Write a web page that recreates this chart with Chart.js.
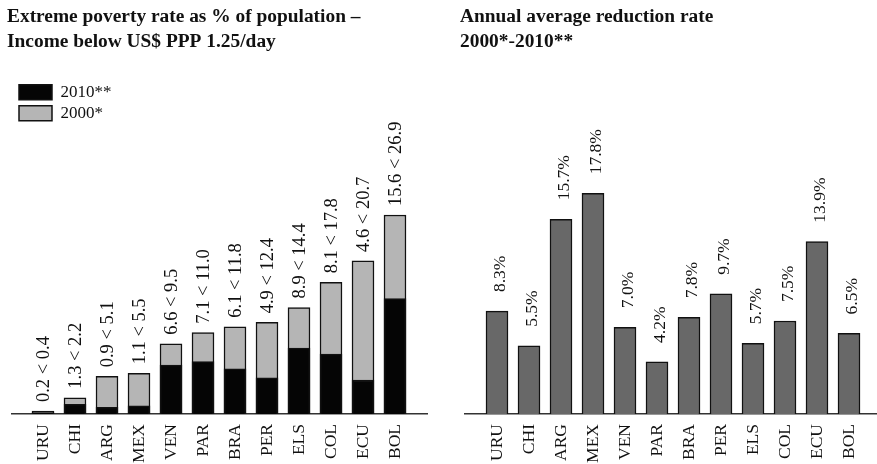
<!DOCTYPE html>
<html>
<head>
<meta charset="utf-8">
<script src="https://cdn.jsdelivr.net/npm/chart.js@4.4.1/dist/chart.umd.min.js"></script>
<style>
    body { margin: 0; background: #fff; }
    #grafico-pobreza { position: absolute; left: 0; top: 0; }
    #grafico-reducao { position: absolute; left: 438px; top: 0; }
</style>
</head>
<body>
<canvas id="grafico-pobreza" width="438" height="464"></canvas>
<canvas id="grafico-reducao" width="439" height="464"></canvas>
<script>
// Dados
const paises = ["URU", "CHI", "ARG", "MEX", "VEN", "PAR", "BRA", "PER", "ELS", "COL", "ECU", "BOL"]
const pobreza2010 = [0.2, 1.3, 0.9, 1.1, 6.6, 7.1, 6.1, 4.9, 8.9, 8.1, 4.6, 15.6]
const pobreza2000 = [0.4, 2.2, 5.1, 5.5, 9.5, 11.0, 11.8, 12.4, 14.4, 17.8, 20.7, 26.9]
const taxaReducao = [8.3, 5.5, 15.7, 17.8, 7.0, 4.2, 7.8, 9.7, 5.7, 7.5, 13.9, 6.5]

const fonteSerif = "'Liberation Serif', 'DejaVu Serif', serif"

// deixa uma sobra no eixo x antes da primeira e depois da ultima barra
const espacarCategorias = (sobraEsquerda, passo) => scale => {
    scale._valueRange = scale.width / passo
    scale._startValue = -sobraEsquerda / passo
}

// rótulos girados em cima das barras
const rotulosBarras = (indiceDataset, texto, distancia, desvio, tamanho) => ({
    id: 'rotulosBarras',
    afterDatasetsDraw(chart) {
        const ctx = chart.ctx
        const meta = chart.getDatasetMeta(indiceDataset)
        ctx.save()
        ctx.font = `${tamanho}px ${fonteSerif}`
        ctx.fillStyle = '#111'
        ctx.textAlign = 'left'
        ctx.textBaseline = 'middle'
        meta.data.forEach((barra, i) => {
            ctx.save()
            ctx.translate(barra.x + desvio, barra.y - distancia)
            ctx.rotate(-Math.PI / 2)
            ctx.fillText(texto(i), 0, 0)
            ctx.restore()
        })
        ctx.restore()
    }
})

// a legenda em 'chartArea' fica no topo do canvas, entao empurra ela pra dentro da area
const legendaNaArea = {
    id: 'legendaNaArea',
    afterLayout(chart) {
        const legenda = chart.legend
        if (!legenda) return
        legenda.top += chart.chartArea.top
        legenda.bottom += chart.chartArea.top
        legenda.left = chart.chartArea.left + 3
    }
}

const eixoX = (sobraEsquerda) => ({
    grid: { display: false },
    border: { color: '#333', width: 1.5 },
    afterBuildTicks: espacarCategorias(sobraEsquerda, 32),
    afterFit: scale => { scale.height = 50 },
    ticks: {
        minRotation: 90,
        maxRotation: 90,
        padding: 2,
        color: '#111',
        font: { family: fonteSerif, size: 17.5 }
    }
})

const eixoY = (maximo) => ({
    min: 0,
    max: maximo,
    grid: { display: false },
    border: { display: false },
    ticks: { display: false },
    afterFit: scale => { scale.width = 5 }
})

const titulo = (linhas) => ({
    display: true,
    text: linhas,
    align: 'start',
    color: '#111',
    font: { family: fonteSerif, size: 19.4, weight: 'bold', lineHeight: 1.28 },
    padding: { top: 5, bottom: 25 }
})

let graficoPobreza = new Chart(
    document.getElementById("grafico-pobreza"),
    {
        type: "bar",
        data: {
            labels: paises,
            datasets: [
                {
                    label: "2010**",
                    data: pobreza2010,
                    backgroundColor: "#050505",
                    borderColor: "#111",
                    borderWidth: 1.5,
                    grouped: false,
                    order: 0
                },
                {
                    label: "2000*",
                    data: pobreza2000,
                    backgroundColor: "#b5b5b5",
                    borderColor: "#111",
                    borderWidth: 1.5,
                    grouped: false,
                    order: 1
                }
            ]
        },
        options: {
            responsive: false,
            animation: false,
            barThickness: 22,
            layout: { padding: { left: 7, right: 11, bottom: 0 } },
            scales: {
                x: eixoX(31),
                y: eixoY(45.2)
            },
            plugins: {
                title: titulo(["Extreme poverty rate as % of population \u2013", "Income below US$ PPP 1.25/day"]),
                legend: {
                    position: 'chartArea',
                    align: 'start',
                    labels: {
                        boxWidth: 33,
                        boxHeight: 15,
                        padding: 4,
                        color: '#111',
                        font: { family: fonteSerif, size: 17 }
                    }
                },
                tooltip: { enabled: false }
            }
        },
        plugins: [legendaNaArea, rotulosBarras(1, i => `${pobreza2010[i].toFixed(1)} < ${pobreza2000[i].toFixed(1)}`, 9, 1, 18.5)]
    }
);

let graficoReducao = new Chart(
    document.getElementById("grafico-reducao"),
    {
        type: "bar",
        data: {
            labels: paises,
            datasets: [{
                label: "Reducao",
                data: taxaReducao,
                backgroundColor: "#686868",
                borderColor: "#111",
                borderWidth: 1.5
            }]
        },
        options: {
            responsive: false,
            animation: false,
            barThickness: 22,
            layout: { padding: { left: 22, right: 0, bottom: 0 } },
            scales: {
                x: eixoX(32),
                y: eixoY(26.97)
            },
            plugins: {
                title: titulo(["Annual average reduction rate", "2000*-2010**"]),
                legend: { display: false },
                tooltip: { enabled: false }
            }
        },
        plugins: [rotulosBarras(0, i => `${taxaReducao[i].toFixed(1)}%`, 19, 3, 17.5)]
    }
);
</script>
</body>
</html>
